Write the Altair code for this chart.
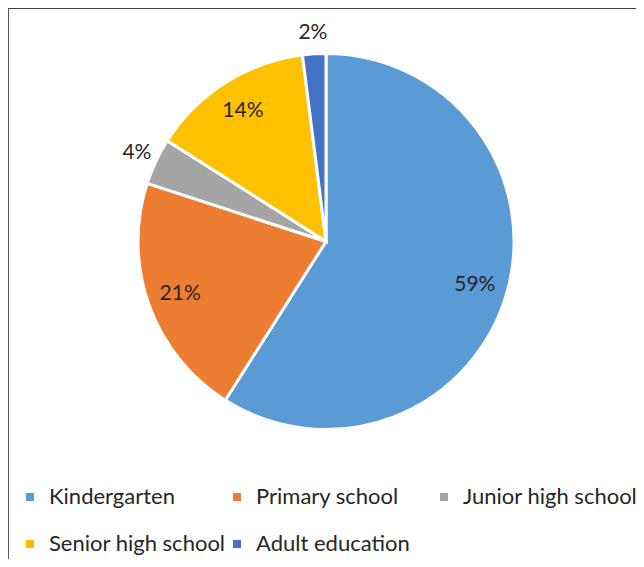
import altair as alt
import pandas as pd

categories = ["Kindergarten", "Primary school", "Junior high school", "Senior high school", "Adult education"]
values = [59, 21, 4, 14, 2]
colors = ["#5B9BD5", "#ED7D31", "#A5A5A5", "#FFC000", "#4472C4"]

df = pd.DataFrame({"category": categories, "value": values, "idx": list(range(len(categories)))})

FONT = "Lato"
W, H = 628, 551
CX, CY, R = 318, 233.5, 188

base = alt.Chart(df).encode(
    theta=alt.Theta("value:Q", stack=True),
    order=alt.Order("idx:Q"),
    x=alt.value(CX),
    y=alt.value(CY),
)

pie = base.mark_arc(radius=R, stroke="white", strokeWidth=3).encode(
    color=alt.Color(
        "category:N",
        scale=alt.Scale(domain=categories, range=colors),
        sort=categories,
        legend=alt.Legend(
            title=None,
            orient="none",
            direction="horizontal",
            legendX=11,
            legendY=478,
            columns=3,
            gridAlign="all",
            columnPadding=0,
            rowPadding=25,
            symbolType="square",
            symbolSize=64,
            symbolStrokeWidth=0,
            labelFont=FONT,
            labelFontSize=22,
            labelColor="#262626",
            labelOffset=8,
            labelLimit=300,
        ),
    )
)

inner = base.transform_calculate(lbl="datum.value + '%'").mark_text(
    radius=155, font=FONT, fontSize=21, color="#262626"
).encode(
    text=alt.condition("datum.value >= 10", alt.Text("lbl:N"), alt.value(""))
)

outer = base.transform_calculate(lbl="datum.value + '%'").mark_text(
    radius=209, font=FONT, fontSize=21, color="#262626"
).encode(
    text=alt.condition("datum.value < 10", alt.Text("lbl:N"), alt.value(""))
)

frame = alt.Chart(alt.Data(values=[{}]))
top_line = frame.mark_rule(color="#404040", strokeWidth=2).encode(
    x=alt.value(0), x2=alt.value(W), y=alt.value(0)
)
left_line = frame.mark_rule(color="#595959", strokeWidth=2).encode(
    x=alt.value(0), y=alt.value(0), y2=alt.value(H)
)

chart = alt.layer(pie, inner, outer, top_line, left_line).properties(
    width=W, height=H, padding=0, autosize=alt.AutoSizeParams(type="none")
).configure_view(stroke=None)

chart.save("out.html", embed_options={"renderer": "svg", "actions": False})
